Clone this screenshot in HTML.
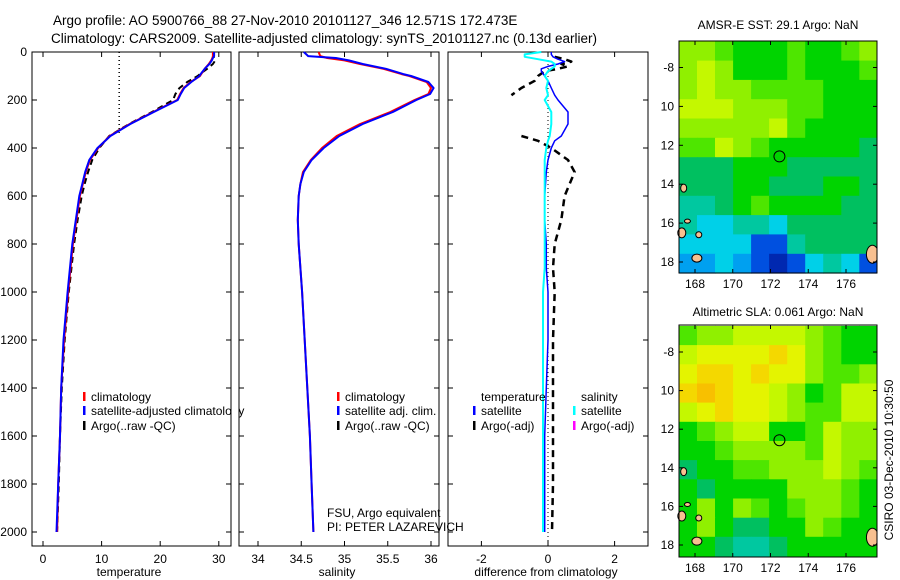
<!DOCTYPE html>
<html><head><meta charset="utf-8">
<style>
html,body{margin:0;padding:0;background:#fff;}
svg{display:block;font-family:"Liberation Sans",sans-serif;}
</style></head>
<body>
<svg id="fig" width="900" height="580" viewBox="0 0 900 580">
<text x="53" y="25" font-size="13.5">Argo profile: AO 5900766_88 27-Nov-2010 20101127_346 12.571S 172.473E</text>
<text x="51" y="43" font-size="13.5">Climatology: CARS2009. Satellite-adjusted climatology: synTS_20101127.nc (0.13d earlier)</text>
<g id="plots"></g>
</svg>
<script>
// ---------- profile data ----------
const depths = [0,17,25,35,50,70,92,100,125,150,175,200,250,300,350,400,450,500,550,600,700,800,1000,1200,1400,1600,1800,2000];
const climTemp = [29.0,29.0,28.9,28.7,28.3,27.6,27.0,26.8,25.2,24.0,23.4,22.9,18.8,14.8,11.4,9.4,8.0,7.3,6.8,6.3,5.7,5.1,4.3,3.6,3.1,2.9,2.6,2.4];
const satTemp  = [29.2,29.2,29.0,28.8,28.4,27.6,26.9,26.7,25.3,24.1,23.5,23.0,18.9,14.9,11.5,9.3,7.9,7.2,6.7,6.2,5.6,5.0,4.2,3.5,3.1,2.9,2.6,2.3];
const argoTemp = [29.0,29.1,29.2,29.4,29.0,28.0,26.8,26.4,24.6,23.3,22.6,22.2,18.6,14.7,11.3,9.6,8.4,7.7,7.1,6.6,5.9,5.3,4.4,3.7,3.2,2.9,2.7,2.4];
const climSal  = [34.70,34.72,34.80,35.00,35.18,35.45,35.66,35.75,35.95,36.00,35.97,35.81,35.53,35.18,34.91,34.74,34.61,34.52,34.49,34.47,34.46,34.47,34.51,34.54,34.57,34.60,34.62,34.64];
const satSal   = [34.53,34.58,34.90,35.05,35.21,35.48,35.68,35.77,35.97,36.03,35.99,35.83,35.56,35.21,34.94,34.76,34.62,34.53,34.49,34.47,34.46,34.47,34.51,34.54,34.57,34.60,34.62,34.64];
const diffDepths = [0,10,20,30,40,50,60,70,80,100,120,150,180,200,250,300,350,370,400,450,500,600,700,800,900,1000,1200,1400,1600,1800,2000];
const diffTempSat = [0.1,0.1,0.15,0.3,0.5,0.3,0.0,-0.2,-0.2,-0.1,0.0,0.1,0.2,0.3,0.6,0.6,0.4,0.2,0.1,0.0,-0.05,-0.1,-0.1,-0.05,-0.05,0.0,0.0,-0.05,-0.1,-0.1,-0.1];
const diffSalSat  = [-0.2,-0.7,-0.7,-0.3,0.1,0.2,0.2,0.1,0.0,-0.1,0.0,-0.05,0.0,-0.1,0.1,0.1,0.05,0.0,-0.05,-0.1,-0.1,-0.1,-0.1,-0.1,-0.1,-0.15,-0.15,-0.15,-0.15,-0.15,-0.15];
const diffTempArgo= [null,null,0.2,0.5,0.7,0.4,0.6,0.3,-0.1,-0.3,-0.4,-0.8,-1.1,null,null,null,-0.8,-0.3,0.1,0.6,0.8,0.5,0.4,0.2,0.15,0.2,0.15,0.15,0.15,0.15,0.12];
const depthTicks = [0,200,400,600,800,1000,1200,1400,1600,1800,2000];
const tempTicks = [0,10,20,30];
const salTicks = ["34","34.5","35","35.5","36"];
const diffTicks = [-2,0,2];

// ---------- map data (hex digit levels, rows north->south) ----------
const sstLevels = [
"88766676678","89866676667","89887777666","99988877666","88888976666",
"77987666665","55566655555","55566555665","44567666655","43344355555",
"33331145555","22321013431"];
const slaLevels = [
"78899998766","9aaaaba8766","abbabaa8778","bcbaa986799","9abaa987799",
"67899667988","66788887988","56677888987","65666688876","68687678876",
"68655668766","66544566666"];
const lonTicks = [168,170,172,174,176];
const latTicks = [-8,-10,-12,-14,-16,-18];
const argoLon = 172.473, argoLat = -12.571;

const NS="http://www.w3.org/2000/svg";
const root=document.getElementById('plots');
function mk(tag,attrs,parent){const e=document.createElementNS(NS,tag);for(const k in attrs)e.setAttribute(k,attrs[k]);(parent||root).appendChild(e);return e;}
function txt(x,y,s,size,anchor,parent){const t=mk('text',{x:x,y:y,'font-size':size||12,'text-anchor':anchor||'start'},parent);t.textContent=s;return t;}

const Y0=52, PB=546;
function yD(d){return Y0+d*0.24;}

function panel(name,x0,x1,xf,ticks,label,labX){
  const g=mk('g',{});
  
  
  const r=mk('rect',{x:x0,y:Y0,width:x1-x0,height:PB-Y0,fill:'none',stroke:'#000','stroke-width':1},g);
  
  
  depthTicks.forEach(d=>{
    const y=yD(d);
    mk('line',{x1:x0,y1:y,x2:x0+5,y2:y,stroke:'#000'},g);
    mk('line',{x1:x1-5,y1:y,x2:x1,y2:y,stroke:'#000'},g);
  });
  ticks.forEach(v=>{
    const x=xf(parseFloat(v));
    mk('line',{x1:x,y1:Y0,x2:x,y2:Y0+5,stroke:'#000'},g);
    mk('line',{x1:x,y1:PB-5,x2:x,y2:PB,stroke:'#000'},g);
    const t=txt(x,563,String(v),12,'middle',g);
    
    
  });
  const l=txt(labX,576,label,12,'middle',g);
  
  
  return g;
}
function line(g,xs,ds,xf,color,w,dash,name){
  let p='',pen=false;
  xs.forEach((v,i)=>{
    if(v===null){pen=false;return;}
    p+=(pen?'L':'M')+xf(v).toFixed(1)+','+yD(ds[i]).toFixed(1);pen=true;});
  const e=mk('path',{d:p,fill:'none',stroke:color,'stroke-width':w,'stroke-dasharray':dash||'none','stroke-linejoin':'round'},g);
  
  
}
function legend(g,x,y,color,label,name){
  const m=mk('rect',{x:x,y:y-9,width:2.5,height:9,fill:color},g);
  
  
  const t=txt(x+8,y,label,12,'start',g);
  
  
}

// Panel 1 temperature
const xT=v=>43+v*5.86;
const g1=panel('temperature-panel',32,231,xT,tempTicks,'temperature',129);
depthTicks.forEach(d=>{const t=txt(27,yD(d)+4,String(d),12,'end');
  
  });
const dot=mk('line',{x1:xT(13),y1:yD(0),x2:xT(13),y2:yD(337),stroke:'#000','stroke-width':1.5,'stroke-dasharray':'1,3'},g1);


line(g1,argoTemp,depths,xT,'#000',2,'6,4','argo-temperature-line');
line(g1,climTemp,depths,xT,'#f00',2,null,'climatology-temperature-line');
line(g1,satTemp,depths,xT,'#00f',2,null,'satellite-temperature-line');
legend(g1,83,401,'#f00','climatology','legend-climatology');
legend(g1,83,415,'#00f','satellite-adjusted climatology','legend-satellite-adjusted');
legend(g1,83,430,'#000','Argo(..raw -QC)','legend-argo');

// Panel 2 salinity
const xS=v=>258+(v-34)*86.5;
const g2=panel('salinity-panel',239,439,xS,salTicks,'salinity',337);
line(g2,climSal,depths,xS,'#f00',2,null,'climatology-salinity-line');
line(g2,satSal,depths,xS,'#00f',2,null,'satellite-salinity-line');
legend(g2,337,401,'#f00','climatology','legend-sal-climatology');
legend(g2,337,415,'#00f','satellite adj. clim.','legend-sal-satellite');
legend(g2,337,430,'#000','Argo(..raw -QC)','legend-sal-argo');
const f1=txt(327,517,'FSU, Argo equivalent',12,'start',g2);


const f2=txt(327,531,'PI: PETER LAZAREVICH',12,'start',g2);


mk('rect',{x:231.5,y:Y0,width:7,height:PB-Y0+1,fill:'#fff'});

// Panel 3 difference
const xDf=v=>548+v*33.3;
const g3=panel('difference-panel',448,648,xDf,diffTicks,'difference from climatology',546);
const z=mk('line',{x1:xDf(0),y1:yD(0),x2:xDf(0),y2:PB,stroke:'#000','stroke-dasharray':'1,3'},g3);


line(g3,diffTempArgo,diffDepths,xDf,'#000',2.5,'7,5','argo-temp-diff-line');
line(g3,diffTempSat,diffDepths,xDf,'#00f',1.5,null,'satellite-temp-diff-line');
line(g3,diffSalSat,diffDepths,xDf,'#0ff',2,null,'satellite-sal-diff-line');
const th=txt(481,401,'temperature',12,'start',g3);
const sh=txt(581,401,'salinity',12,'start',g3);
legend(g3,473,415,'#00f','satellite','legend-temp-satellite');
legend(g3,473,430,'#000','Argo(-adj)','legend-temp-argo');
legend(g3,573,415,'#0ff','satellite','legend-sal-satellite-diff');
legend(g3,573,430,'#f0f','Argo(-adj)','legend-sal-argo-diff');

// ---------- maps ----------
const palette=['#0028b0','#0050e0','#00a0f0','#00d0e8','#00c8a0','#00c060','#00d400','#4ee600','#90f000','#c4f800','#e4f400','#f4d800','#f8c000','#f0f0f0','#ffffff','#ffffff'];
function map(name,top,bottom,levels,title,titleY,lat8y,lat18y){
  const x0=679,x1=877;
  const lonX=l=>695+(l-168)*18.875;
  const latY=l=>lat8y+(-8-l)*(lat18y-lat8y)/10;
  const g=mk('g',{});
  
  
  const rows=levels.length, cols=levels[0].length;
  const lonMin=167.15, lonMax=177.66, latMax=-6.65, latMin=-18.57;
  const dLon=(lonMax-lonMin)/cols, dLat=(latMax-latMin)/rows;
  for(let r=0;r<rows;r++)for(let c=0;c<cols;c++){
    const v=parseInt(levels[r][c],16);
    const xa=lonX(lonMin+c*dLon), xb=lonX(lonMin+(c+1)*dLon);
    const ya=Math.max(top,latY(latMax-r*dLat)), yb=Math.min(bottom,latY(latMax-(r+1)*dLat));
    const cell=mk('rect',{x:xa.toFixed(1),y:ya.toFixed(1),width:(xb-xa+0.6).toFixed(1),height:(yb-ya+0.6).toFixed(1),fill:palette[v]},g);
    
    
  }
  [[167.4,-14.2,3,4],[167.6,-15.9,3,2],[167.3,-16.5,4,5],[168.2,-16.6,3,3],[168.1,-17.8,5,4],[177.4,-17.6,6,9]].forEach(s=>{
    const e=mk('ellipse',{cx:lonX(s[0]),cy:latY(s[1]),rx:s[2],ry:s[3],fill:'#f8c090',stroke:'#000','stroke-width':1},g);
    
    
  });
  mk('rect',{x:x1,y:top-1,width:5,height:bottom-top+2,fill:'#fff'},g);
  const fr=mk('rect',{x:x0,y:top,width:x1-x0,height:bottom-top,fill:'none',stroke:'#000'},g);
  
  
  const mk2=mk('circle',{cx:lonX(argoLon),cy:latY(argoLat),r:5.5,fill:'none',stroke:'#000','stroke-width':1},g);
  
  
  lonTicks.forEach(l=>{const x=lonX(l);
    mk('line',{x1:x,y1:top,x2:x,y2:top+4,stroke:'#000'},g);
    mk('line',{x1:x,y1:bottom-4,x2:x,y2:bottom,stroke:'#000'},g);
    const t=txt(x,bottom+15,String(l),12,'middle',g);
    
    });
  latTicks.forEach(l=>{const y=latY(l);
    mk('line',{x1:x0,y1:y,x2:x0+4,y2:y,stroke:'#000'},g);
    mk('line',{x1:x1-4,y1:y,x2:x1,y2:y,stroke:'#000'},g);
    const t=txt(674,y+4,l===-8?'-8':String(-l),12,'end',g);
    
    });
  const tt=txt(778,titleY,title,12,'middle',g);
  
  
}
map('sst-map',41,273,sstLevels,'AMSR-E SST: 29.1 Argo: NaN',29,67.5,262);
map('sla-map',325,557,slaLevels,'Altimetric SLA: 0.061 Argo: NaN',316,352,545);
const stamp=txt(0,0,'CSIRO 03-Dec-2010 10:30:50',12,'middle');
stamp.setAttribute('transform','translate(893,460) rotate(-90)');


</script>
</body></html>
